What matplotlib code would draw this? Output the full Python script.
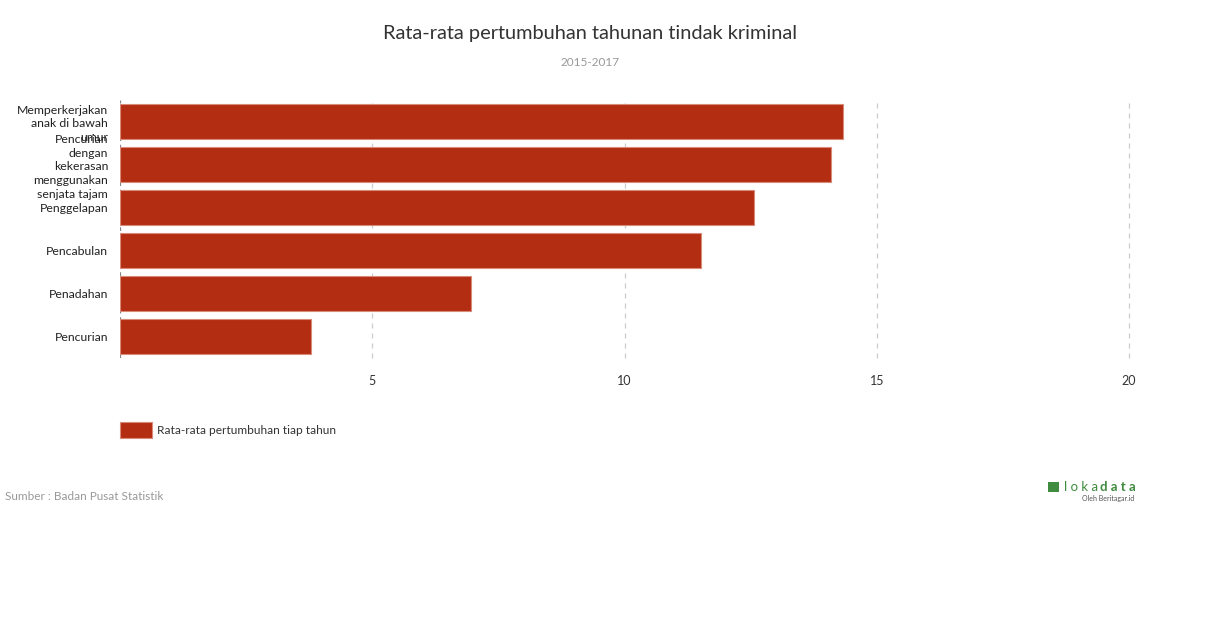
import matplotlib.pyplot as plt
from matplotlib.patches import Rectangle

plt.rcParams['font.family'] = ['Lato', 'DejaVu Sans']

categories = [
    "Memperkerjakan\nanak di bawah\numur",
    "Pencurian\ndengan\nkekerasan\nmenggunakan\nsenjata tajam",
    "Penggelapan",
    "Pencabulan",
    "Penadahan",
    "Pencurian",
]
values = [14.34, 14.09, 12.56, 11.52, 6.95, 3.78]
x_ticks = [5, 10, 15, 20]

bar_color = "#B22D11"

fig = plt.figure(figsize=(12.1, 6.28), dpi=100)
ax = fig.add_axes([120 / 1210, 1 - 358 / 628, (1129 - 120) / 1210, 258 / 628])

pos = list(range(len(categories)))
ax.barh(pos, values, height=0.81, color=bar_color, edgecolor="#d98a7a", linewidth=0.8, zorder=3)
ax.set_ylim(len(categories) - 0.5, -0.5)
ax.set_xlim(0, 20)

ax.set_xticks(x_ticks)
ax.set_xticklabels([str(t) for t in x_ticks], fontsize=9, color="#333333")
ax.set_yticks(pos)
ax.set_yticklabels(categories, fontsize=8.8, color="#222222", linespacing=1.33)
ax.tick_params(axis="both", length=0)
ax.tick_params(axis="y", pad=8.5)
ax.tick_params(axis="x", pad=12.5)

for t in x_ticks:
    ax.axvline(t, color="#cccccc", linestyle=(0, (4, 4)), linewidth=0.9, zorder=1, clip_on=False)
ax.axvline(0, color="#888888", linestyle=(0, (3, 3)), linewidth=0.9, zorder=1)

for s in ax.spines.values():
    s.set_visible(False)

fig.text(590 / 1210, 1 - 33 / 628, "Rata-rata pertumbuhan tahunan tindak kriminal",
         ha="center", va="center", fontsize=14.4, color="#333333")
fig.text(590 / 1210, 1 - 62 / 628, "2015-2017", ha="center", va="center",
         fontsize=8.5, color="#999999")

# legend
fig.patches.append(Rectangle((120 / 1210, 1 - 438 / 628), 32 / 1210, 16 / 628,
                             transform=fig.transFigure, facecolor=bar_color,
                             edgecolor="#d98a7a", linewidth=0.8))
fig.text(157 / 1210, 1 - 430 / 628, "Rata-rata pertumbuhan tiap tahun",
         ha="left", va="center", fontsize=8.6, color="#333333")

fig.text(5 / 1210, 1 - 497 / 628, "Sumber : Badan Pusat Statistik",
         ha="left", va="center", fontsize=8.5, color="#999999")

# logo
fig.patches.append(Rectangle((1048 / 1210, 1 - 492 / 628), 11 / 1210, 10 / 628,
                             transform=fig.transFigure, facecolor="#3f8b3f",
                             edgecolor="none"))
fig.text(1064 / 1210, 1 - 487 / 628, "l o k a", ha="left", va="center",
         fontsize=9.5, color="#3f8b3f")
fig.text(1100 / 1210, 1 - 487 / 628, "d a t a", ha="left", va="center",
         fontsize=9.5, color="#3f8b3f", fontweight="bold")
fig.text(1134 / 1210, 1 - 498 / 628, "Oleh Beritagar.id", ha="right", va="center",
         fontsize=5, color="#555555")

fig.savefig("out.png", dpi=100)
